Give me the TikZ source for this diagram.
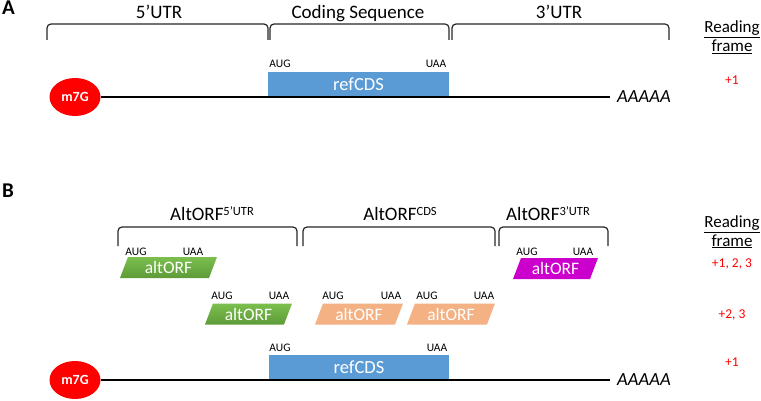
\documentclass[tikz,border=0pt]{standalone}
\usepackage{fontspec}
\setmainfont{Carlito}
\usetikzlibrary{shapes.geometric}
\definecolor{cdsblue}{HTML}{5B9BD5}
\definecolor{orfgreenL}{HTML}{7BBF4E}
\definecolor{orfgreenD}{HTML}{5E9B38}
\definecolor{orforange}{HTML}{F4B183}
\definecolor{orfmagenta}{HTML}{CC00CC}
\definecolor{capred}{HTML}{FF0000}
\begin{document}
\begin{tikzpicture}[x=1pt,y=-1pt,
 hdr/.style={font=\fontsize{19}{22}\selectfont, anchor=base, inner sep=0},
 codon/.style={font=\fontsize{11.5}{13}\selectfont, anchor=base, inner sep=0},
 cds/.style={fill=cdsblue, minimum width=#1, minimum height=25pt, inner sep=0, text=white, font=\fontsize{18.5}{20}\selectfont},
 orfbox/.style 2 args={minimum width=#2, minimum height=21pt, inner sep=0, text=white,
   font=\fontsize{17.5}{19}\selectfont,
   path picture={\path[#1] ([xshift=8pt]path picture bounding box.north west)
     -- (path picture bounding box.north east)
     -- ([xshift=-8pt]path picture bounding box.south east)
     -- (path picture bounding box.south west) -- cycle;}},
 capnode/.style={ellipse, fill=capred, minimum width=51pt, minimum height=38pt, text=white,
   font=\bfseries\fontsize{14}{16}\selectfont, inner sep=0},
 brace/.style={line width=1.2pt, rounded corners=4pt, draw=black!85},
 mrna/.style={line width=2.8pt},
 polya/.style={font=\itshape\fontsize{18.5}{20}\selectfont, anchor=west, inner sep=0},
 rf/.style={font=\fontsize{17}{19}\selectfont, anchor=base, inner sep=0},
 rfnum/.style={font=\fontsize{13.5}{15}\selectfont, text=capred, inner sep=0},
 panel/.style={font=\bfseries\fontsize{21}{22}\selectfont, anchor=base west, inner sep=0}
]
\useasboundingbox (0,0) rectangle (761,401);

% ---------------- Panel A ----------------
\node[panel] (pA) at (2,15) {A};
\node[hdr] (h5) at (159,19) {5’UTR};
\node[hdr] (hc) at (358,19) {Coding Sequence};
\node[hdr] (h3) at (559,19) {3’UTR};
\draw[brace] (47,40) -- (47,24) -- (268,24) -- (268,40);
\draw[brace] (270,40) -- (270,24) -- (449,24) -- (449,40);
\draw[brace] (452,40) -- (452,24) -- (669,24) -- (669,40);

\node[cds=181pt] (cdsA) at (358.5,84.5) {refCDS};
\node[codon] (augA) at (280,68) {AUG};
\node[codon] (uaaA) at (436,68) {UAA};
\node[capnode] (capA) at (75,97) {m7G};
\node[polya] (polyA) at (617,97) {AAAAA};
\draw[mrna] (capA.east) -- ([xshift=-7pt]polyA.west);

\node[rf] (rdA) at (732,33) {\underline{Reading}};
\node[rf] (frA) at (732,52) {\underline{frame}};
\node[rfnum] (nA) at (732,80) {+1};

% ---------------- Panel B ----------------
\node[panel] (pB) at (2,198) {B};
\node[hdr] (hb5) at (212,220) {AltORF\raisebox{5pt}{\fontsize{12.5}{13}\selectfont 5’UTR}};
\node[hdr] (hbc) at (400,220) {AltORF\raisebox{5pt}{\fontsize{12.5}{13}\selectfont CDS}};
\node[hdr] (hb3) at (548,220) {AltORF\raisebox{5pt}{\fontsize{12.5}{13}\selectfont 3’UTR}};
\draw[brace] (118,246) -- (118,227) -- (297,227) -- (297,246);
\draw[brace] (303,246) -- (303,227) -- (495,227) -- (495,246);
\draw[brace] (499,246) -- (499,227) -- (608,227) -- (608,246);

% row 1 (+1, 2, 3)
\node[orfbox={top color=orfgreenL,bottom color=orfgreenD}{97pt}] (g1) at (168.5,267.5) {altORF};
\node[codon] (g1aug) at (136,255) {AUG};
\node[codon] (g1uaa) at (193,255) {UAA};
\node[orfbox={fill=orfmagenta}{85pt}] (m1) at (555.5,268.5) {altORF};
\node[codon] (m1aug) at (527,255) {AUG};
\node[codon] (m1uaa) at (583,255) {UAA};

% row 2 (+2, 3)
\node[orfbox={top color=orfgreenL,bottom color=orfgreenD}{87pt}] (g2) at (248.5,314) {altORF};
\node[codon] (g2aug) at (222,299) {AUG};
\node[codon] (g2uaa) at (279,299) {UAA};
\node[orfbox={fill=orforange}{88pt}] (o1) at (359,314) {altORF};
\node[codon] (o1aug) at (333,299) {AUG};
\node[codon] (o1uaa) at (391,299) {UAA};
\node[orfbox={fill=orforange}{88pt}] (o2) at (451,314) {altORF};
\node[codon] (o2aug) at (427,299) {AUG};
\node[codon] (o2uaa) at (484,299) {UAA};

% reference CDS
\node[cds=180pt] (cdsB) at (359,367.5) {refCDS};
\node[codon] (augB) at (280,351) {AUG};
\node[codon] (uaaB) at (437,351) {UAA};
\node[capnode] (capB) at (75,380) {m7G};
\node[polya] (polyB) at (617,380) {AAAAA};
\draw[mrna] (capB.east) -- ([xshift=-7pt]polyB.west);

\node[rf] (rdB) at (732,228) {\underline{Reading}};
\node[rf] (frB) at (732,246) {\underline{frame}};
\node[rfnum] (nB1) at (732,264) {+1, 2, 3};
\node[rfnum] (nB2) at (732,315) {+2, 3};
\node[rfnum] (nB3) at (732,362) {+1};
\end{tikzpicture}
\end{document}
